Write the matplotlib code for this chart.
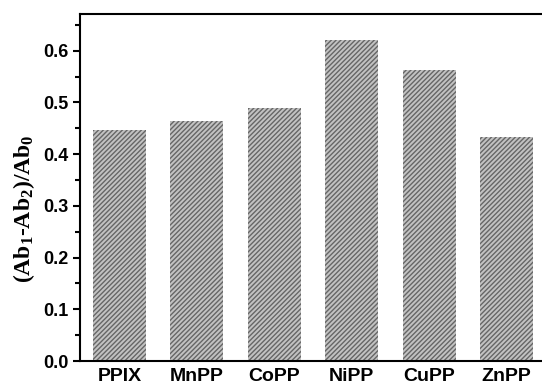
import matplotlib
matplotlib.use("Agg")
import matplotlib.pyplot as plt
from matplotlib.ticker import MultipleLocator

categories = ["PPIX", "MnPP", "CoPP", "NiPP", "CuPP", "ZnPP"]
values = [0.447, 0.464, 0.489, 0.620, 0.563, 0.433]
yticks = [0.0, 0.1, 0.2, 0.3, 0.4, 0.5, 0.6]

plt.rcParams['mathtext.fontset'] = 'custom'
plt.rcParams['mathtext.rm'] = 'Liberation Serif:bold'
plt.rcParams['mathtext.it'] = 'Liberation Serif:bold'
plt.rcParams['mathtext.bf'] = 'Liberation Serif:bold'
plt.rcParams['hatch.linewidth'] = 1.0

fig = plt.figure(figsize=(5.42, 3.85), dpi=100)
ax = fig.add_axes([80/542, 1-361/385, 1-80/542, (361-14)/385])

x = list(range(1, len(categories) + 1))
ax.bar(x, values, width=0.685, color='#c2c2c2', edgecolor='#666666',
       hatch='///////', linewidth=0)

ax.set_xlim(0.49, 6.46)
ax.set_ylim(0, 0.671)
ax.set_xticks(x)
ax.set_xticklabels(categories, fontfamily='Liberation Sans', fontweight='bold', fontsize=14)
ax.set_yticks(yticks)
ax.set_yticklabels([f"{v:.1f}" for v in yticks], fontfamily='Liberation Sans',
                   fontweight='bold', fontsize=13)
ax.yaxis.set_minor_locator(MultipleLocator(0.05))
ax.tick_params(axis='y', which='major', direction='out', length=5, width=1.5, pad=3)
ax.tick_params(axis='y', which='minor', direction='out', length=3.5, width=1.5)
ax.tick_params(axis='x', length=0, pad=5)

for s in ['left', 'top', 'bottom']:
    ax.spines[s].set_linewidth(1.5)
ax.spines['right'].set_visible(False)

ax.set_ylabel('(Ab$_1$-Ab$_2$)/Ab$_0$', fontfamily='Liberation Serif',
              fontweight='bold', fontsize=17)
ax.yaxis.set_label_coords(-0.092, 0.44)

fig.savefig('out.png', dpi=100)
